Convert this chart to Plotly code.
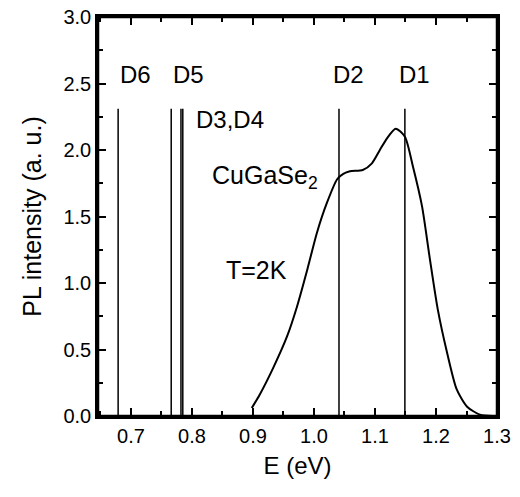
import plotly.graph_objects as go

# PL spectrum of CuGaSe2 at T=2K
energy = [0.898, 0.911, 0.933, 0.956, 0.972, 0.989, 1.005, 1.021, 1.038, 1.048,
          1.059, 1.080, 1.095, 1.108, 1.120, 1.134, 1.149, 1.162, 1.177, 1.190,
          1.203, 1.218, 1.234, 1.251, 1.272, 1.293]
intensity = [0.06, 0.16, 0.36, 0.60, 0.82, 1.10, 1.38, 1.60, 1.78, 1.82,
             1.84, 1.85, 1.90, 2.00, 2.09, 2.16, 2.10, 1.88, 1.58, 1.18,
             0.80, 0.48, 0.20, 0.07, 0.01, 0.0]

# Defect level markers
defect_names = ["D6", "D5", "D3", "D4", "D2", "D1"]
defect_energy = [0.679, 0.766, 0.782, 0.785, 1.041, 1.149]
defect_height = 2.31

x_ticks = [0.7, 0.8, 0.9, 1.0, 1.1, 1.2, 1.3]
y_ticks = [0.0, 0.5, 1.0, 1.5, 2.0, 2.5, 3.0]

FONT = "Liberation Sans, Arial, sans-serif"

fig = go.Figure()
for name, e in zip(defect_names, defect_energy):
    fig.add_trace(go.Scatter(x=[e, e], y=[0, defect_height], mode="lines",
                             line=dict(color="black", width=1.5), name=name,
                             showlegend=False, hoverinfo="skip"))

fig.add_trace(go.Scatter(x=energy, y=intensity, mode="lines",
                         line=dict(color="black", width=2, shape="spline", smoothing=0.7),
                         showlegend=False))

labels = [("D6", 0.707, 2.57, 24), ("D5", 0.795, 2.57, 24), ("D3,D4", 0.862, 2.23, 24),
          ("D2", 1.056, 2.57, 24), ("D1", 1.164, 2.57, 24),
          ("CuGaSe<sub>2</sub>", 0.920, 1.80, 25), ("T=2K", 0.905, 1.10, 25)]
for txt, x, y, s in labels:
    fig.add_annotation(x=x, y=y, text=txt, showarrow=False,
                       font=dict(family=FONT, size=s, color="black"))

# frame
fig.add_shape(type="rect", xref="paper", yref="paper", x0=0, y0=0, x1=1, y1=1,
              line=dict(color="black", width=2.5), layer="above")

axis_common = dict(showline=True, linecolor="black", linewidth=2.5, mirror="ticks",
                   ticks="inside", ticklen=8, tickwidth=2, tickcolor="black",
                   showgrid=False, zeroline=False,
                   tickfont=dict(family=FONT, size=20, color="black"))

fig.update_xaxes(range=[0.646, 1.3], tickvals=x_ticks, ticktext=[f"{v:.1f}" for v in x_ticks],
                 minor=dict(dtick=0.05, tick0=0.65, ticks="inside", ticklen=5, tickwidth=2,
                            tickcolor="black", showgrid=False),
                 title=dict(text="E (eV)", font=dict(family=FONT, size=24, color="black"),
                            standoff=12),
                 **axis_common)
fig.update_yaxes(range=[0, 3.0], tickvals=y_ticks, ticktext=[f"{v:.1f}" for v in y_ticks],
                 minor=dict(dtick=0.25, tick0=0, ticks="inside", ticklen=5, tickwidth=2,
                            tickcolor="black", showgrid=False),
                 title=dict(text="PL intensity (a. u.)", font=dict(family=FONT, size=25, color="black"),
                            standoff=15),
                 **axis_common)

fig.update_layout(width=520, height=497, margin=dict(l=98, r=23, t=17, b=81, autoexpand=False),
                  plot_bgcolor="white", paper_bgcolor="white",
                  font=dict(family=FONT, color="black"))

fig.write_html("out.html", config={"displayModeBar": False},
               post_script="document.body.style.margin='0';document.body.style.overflow='hidden';")
